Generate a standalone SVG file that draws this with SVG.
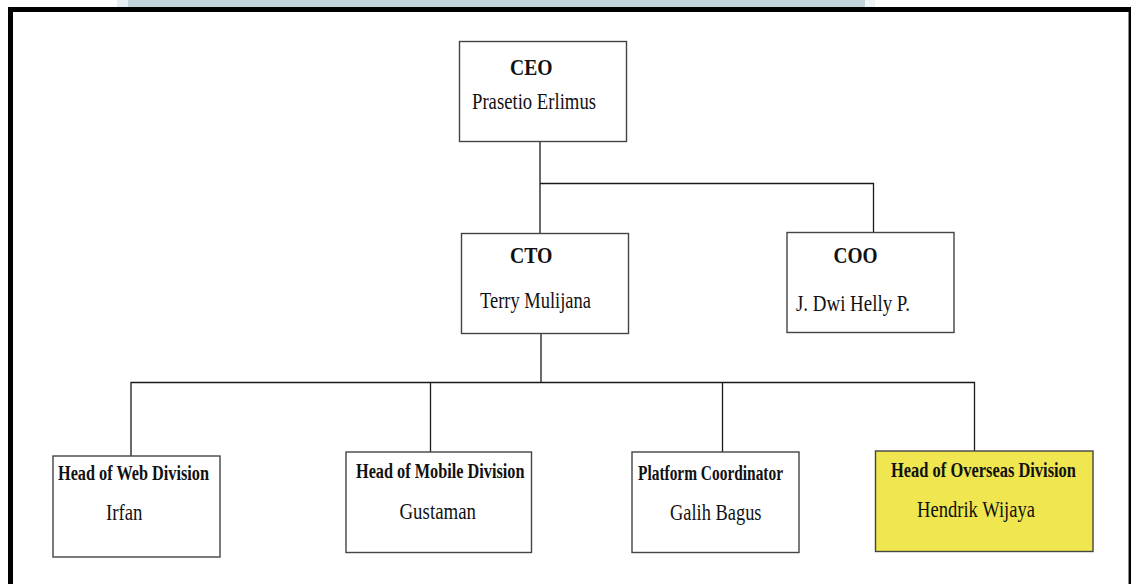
<svg xmlns="http://www.w3.org/2000/svg" width="1131" height="584" viewBox="0 0 1131 584">
<style>
.box{fill:#ffffff;stroke:#444444;stroke-width:1.4}
.hl{fill:#efe650}
.ln{fill:none;stroke:#1a1a1a;stroke-width:1.3}
.t{font-family:"Liberation Serif","Times New Roman",serif;fill:#111111}
.b{font-weight:bold}
</style>
<rect x="0" y="0" width="1131" height="584" fill="#ffffff"/>
<rect x="117" y="0" width="11" height="7" fill="#e6edf3"/>
<rect x="128" y="0" width="737" height="7" fill="#c3d3da"/>
<rect x="865" y="0" width="10" height="7" fill="#eef3f5"/>
<g id="frame" fill="none" stroke="#000000">
<line x1="10.5" y1="7" x2="10.5" y2="584" stroke-width="5"/>
<line x1="8" y1="9.5" x2="1131" y2="9.5" stroke-width="5"/>
<line x1="1129.8" y1="7" x2="1129.8" y2="584" stroke-width="2.5"/>
</g>
<g id="connectors" class="ln">
<polyline points="540,142 540,233"/>
<polyline points="540,183.5 873.5,183.5 873.5,232"/>
<polyline points="541,334 541,382.5"/>
<polyline points="131,456 131,382.5 974.5,382.5 974.5,451"/>
<line x1="430.5" y1="382.5" x2="430.5" y2="452"/>
<line x1="722.5" y1="382.5" x2="722.5" y2="452"/>
</g>
<g id="ceo">
<rect class="box" x="459.5" y="41.5" width="167" height="100"/>
<text class="t b" x="510" y="75" font-size="23.5" textLength="42.5" lengthAdjust="spacingAndGlyphs">CEO</text>
<text class="t" x="472" y="109" font-size="23.5" textLength="124" lengthAdjust="spacingAndGlyphs">Prasetio Erlimus</text>
</g>
<g id="cto">
<rect class="box" x="461.5" y="233.5" width="167" height="100"/>
<text class="t b" x="510" y="263" font-size="23.5" textLength="42.5" lengthAdjust="spacingAndGlyphs">CTO</text>
<text class="t" x="480" y="308" font-size="23" textLength="111" lengthAdjust="spacingAndGlyphs">Terry Mulijana</text>
</g>
<g id="coo">
<rect class="box" x="787" y="232.5" width="167" height="100"/>
<text class="t b" x="833.5" y="263" font-size="23.5" textLength="44" lengthAdjust="spacingAndGlyphs">COO</text>
<text class="t" x="796" y="310.5" font-size="23" textLength="114" lengthAdjust="spacingAndGlyphs">J. Dwi Helly P.</text>
</g>
<g id="web">
<rect class="box" x="53" y="456" width="167" height="101"/>
<text class="t b" x="58" y="480" font-size="20.5" textLength="151" lengthAdjust="spacingAndGlyphs">Head of Web Division</text>
<text class="t" x="106" y="520" font-size="24" textLength="36.5" lengthAdjust="spacingAndGlyphs">Irfan</text>
</g>
<g id="mobile">
<rect class="box" x="346" y="452" width="185.5" height="100.5"/>
<text class="t b" x="356" y="477.5" font-size="20.5" textLength="168.5" lengthAdjust="spacingAndGlyphs">Head of Mobile Division</text>
<text class="t" x="399.5" y="518.5" font-size="23" textLength="76.5" lengthAdjust="spacingAndGlyphs">Gustaman</text>
</g>
<g id="platform">
<rect class="box" x="632" y="452" width="167" height="100.5"/>
<text class="t b" x="638" y="480" font-size="20.5" textLength="145" lengthAdjust="spacingAndGlyphs">Platform Coordinator</text>
<text class="t" x="670" y="519.5" font-size="23" textLength="91.5" lengthAdjust="spacingAndGlyphs">Galih Bagus</text>
</g>
<g id="overseas">
<rect class="box hl" x="875.5" y="451" width="217.5" height="100.5"/>
<text class="t b" x="891" y="476.5" font-size="20.5" textLength="185" lengthAdjust="spacingAndGlyphs">Head of Overseas Division</text>
<text class="t" x="917" y="516.5" font-size="23" textLength="118" lengthAdjust="spacingAndGlyphs">Hendrik Wijaya</text>
</g>
</svg>
